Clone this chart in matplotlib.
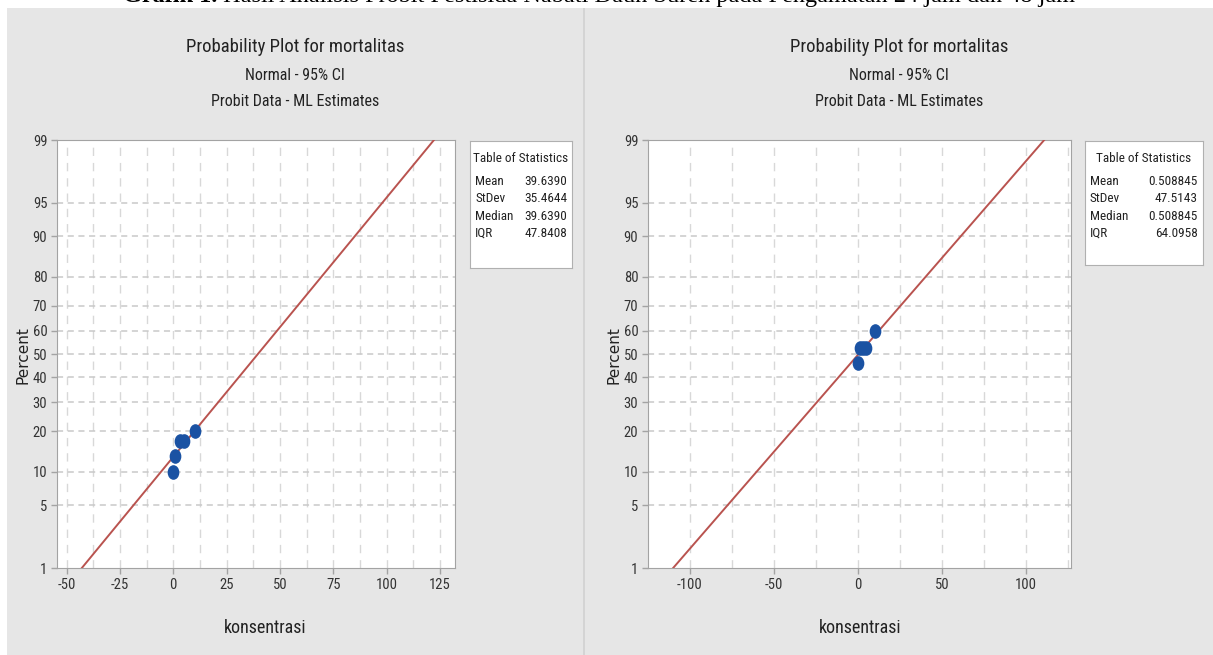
import matplotlib.pyplot as plt
import numpy as np
from statistics import NormalDist
from matplotlib import font_manager
from matplotlib.patches import Rectangle
from matplotlib.path import Path
from matplotlib.transforms import Affine2D

nd = NormalDist()

# data
persen_ticks = [1, 5, 10, 20, 30, 40, 50, 60, 70, 80, 90, 95, 99]
stat_nama = ["Mean", "StDev", "Median", "IQR"]

# pengamatan 24 jam
konsentrasi_24 = [0, 1, 3, 5, 10]
mortalitas_24 = [10, 13.3, 17.3, 17.3, 20]
stat_24 = ["39.6390", "35.4644", "39.6390", "47.8408"]
xticks_24 = [-50, -25, 0, 25, 50, 75, 100, 125]

# pengamatan 48 jam
konsentrasi_48 = [0, 1, 3, 5, 10]
mortalitas_48 = [46, 52.7, 52.7, 52.7, 60]
stat_48 = ["0.508845", "47.5143", "0.508845", "64.0958"]
xticks_48 = [-100, -50, 0, 50, 100]

W, H = 1213, 655

# cari font sempit kalau ada
names = {f.name for f in font_manager.fontManager.ttflist}
sempit = {"family": "Open Sans", "stretch": "normal"}
if "Roboto Condensed" in names:
    sempit = {"family": "Roboto Condensed", "stretch": "normal"}
elif "Liberation Sans Narrow" in names:
    sempit = {"family": "Liberation Sans Narrow", "stretch": "normal"}

def kotak(x0, y0, x1, y1):
    return [x0/W, 1 - y1/H, (x1 - x0)/W, (y1 - y0)/H]

def z(p):
    return nd.inv_cdf(p/100.0) if np.ndim(p) == 0 else [nd.inv_cdf(v/100.0) for v in p]

elips = Path.unit_circle().transformed(Affine2D().scale(0.78, 1.0))

fig = plt.figure(figsize=(W/100, H/100), dpi=100)
fig.patch.set_facecolor("white")

# latar panel
fig.add_artist(Rectangle((7/W, 0), (583-7)/W, (H-8)/H, transform=fig.transFigure,
                         fc="#e6e6e6", ec="none", zorder=-10))
fig.add_artist(Rectangle((585/W, 0), (W-585)/W, (H-8)/H, transform=fig.transFigure,
                         fc="#e6e6e6", ec="none", zorder=-10))
fig.add_artist(Rectangle((583/W, 0), 2/W, (H-8)/H, transform=fig.transFigure,
                         fc="#d4d4d4", ec="none", zorder=-9))

def panel(pos, x, p, xticks, minor, xlim, stats, pos_stat, cx, lab_x):
    ax = fig.add_axes(kotak(*pos))
    ax.set_facecolor("white")
    m, s = float(stats[0]), float(stats[1])
    xx = np.linspace(xlim[0], xlim[1], 200)
    ax.plot(xx, (xx - m)/s, color="#b9534f", lw=1.4, zorder=3)
    ax.plot(x, z(p), linestyle="none", marker=elips, ms=9.5, color="#1a52a3", zorder=4)
    ax.set_xlim(xlim)
    ax.set_ylim(z(1), z(99))
    ax.set_yticks(z(persen_ticks))
    ax.set_yticklabels([str(t) for t in persen_ticks])
    ax.set_xticks(xticks)
    ax.set_xticklabels([str(t) for t in xticks])
    for v in np.arange(xlim[0] - xlim[0] % minor, xlim[1], minor):
        if xlim[0] < v < xlim[1]:
            ax.axvline(v, color="#d8d8d8", lw=1, dashes=(6, 5), zorder=1)
    for t in persen_ticks[1:-1]:
        ax.axhline(z(t), color="#c9c9c9", lw=1.1, dashes=(4, 3), zorder=1)
    for sp in ax.spines.values():
        sp.set_color("#a3a3a3")
    ax.tick_params(colors="#a3a3a3", length=4, width=1, pad=3, labelcolor="#333333")
    for lab in ax.get_xticklabels() + ax.get_yticklabels():
        lab.set_fontfamily(sempit["family"])
        lab.set_fontsize(10.5)

    # tabel statistik
    sx0, sy0, sx1, sy1 = pos_stat
    st = fig.add_axes(kotak(*pos_stat))
    st.set_xticks([])
    st.set_yticks([])
    st.set_facecolor("white")
    for sp in st.spines.values():
        sp.set_color("#b0b0b0")
    fig.text((sx0 + sx1)/2/W, 1 - 158/H, "Table of Statistics", ha="center", va="center",
             fontsize=9.5, color="#222222", **sempit)
    for i, (n, v) in enumerate(zip(stat_nama, stats)):
        yy = 1 - (181 + 17.5*i)/H
        fig.text((sx0 + 5)/W, yy, n, ha="left", va="center", fontsize=9.5, color="#222222", **sempit)
        fig.text((sx1 - 5)/W, yy, v, ha="right", va="center", fontsize=9.5, color="#222222", **sempit)

    # judul dan label
    fig.text(cx/W, 1 - 47/H, "Probability Plot for mortalitas", ha="center", va="center",
             fontsize=13.5, color="#222222", **sempit)
    fig.text(cx/W, 1 - 76/H, "Normal - 95% CI", ha="center", va="center",
             fontsize=11.5, color="#222222", **sempit)
    fig.text(cx/W, 1 - 102/H, "Probit Data - ML Estimates", ha="center", va="center",
             fontsize=11.5, color="#222222", **sempit)
    fig.text(lab_x/W, 1 - 628/H, "konsentrasi", ha="center", va="center",
             fontsize=13, color="#222222", **sempit)
    fig.text((pos[0] - 34)/W, 1 - 355/H, "Percent", ha="center", va="center", rotation=90,
             fontsize=11, family="DejaVu Sans", color="#222222")
    return ax

ax1 = panel((57, 140, 455, 568), konsentrasi_24, mortalitas_24, xticks_24, 12.5, (-54.5, 132),
            stat_24, (470, 141, 572, 268), 295, 265)
ax2 = panel((648, 140, 1071, 568), konsentrasi_48, mortalitas_48, xticks_48, 25, (-125, 127),
            stat_48, (1085, 141, 1203, 265), 899, 860)

# keterangan di atas (terpotong)
t1 = fig.text(123/W, 1 - 2/H, "Grafik 1.", ha="left", va="baseline", fontsize=17.5,
              family="Liberation Serif", weight="bold", color="black", zorder=5)
ax1.annotate(" Hasil Analisis Probit Pestisida Nabati Daun Sureh pada Pengamatan 24 jam dan 48 jam",
             xy=(1, 0), xycoords=t1, ha="left", va="bottom", fontsize=17.5,
             family="Liberation Serif", color="black", annotation_clip=False, zorder=5)

plt.savefig("out.png", dpi=100)
